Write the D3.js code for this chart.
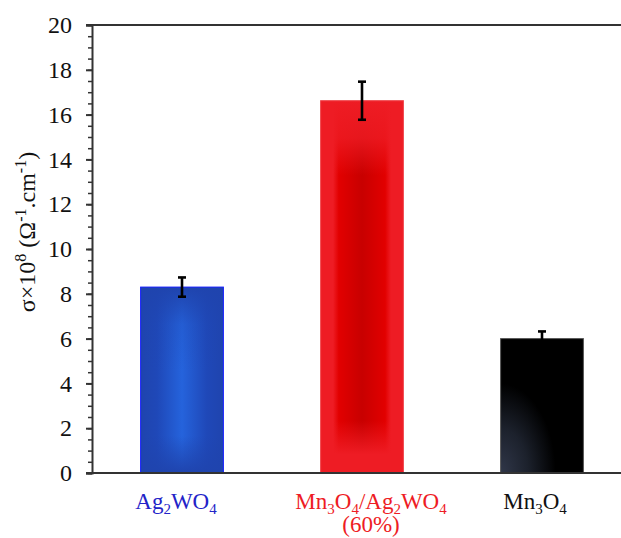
<!DOCTYPE html>
<html>
<head>
<meta charset="utf-8">
<script src="https://cdn.jsdelivr.net/npm/d3@7/dist/d3.min.js"></script>
<style>
    body { margin: 0; background: #fff; }
    text { font-family: "Liberation Serif", "Times New Roman", serif; }
</style>
</head>
<body>
<svg id="chart"></svg>
<script>
const categories = ["Ag2WO4", "Mn3O4/Ag2WO4 (60%)", "Mn3O4"];
const values = [8.3, 16.62, 6.0];
const errors = [0.43, 0.85, 0.32];
const yTicks = [0, 2, 4, 6, 8, 10, 12, 14, 16, 18, 20];

const width = 621,
    height = 538;
const margin = { top: 25, left: 92, bottom: 65 };

const svg = d3
    .select("#chart")
    .attr("width", width)
    .attr("height", height);

// the plot area runs past the right edge of the picture
const x = d3
    .scaleBand()
    .domain(categories)
    .range([margin.left, margin.left + 540])
    .paddingInner(0.54)
    .paddingOuter(0.27);

const y = d3
    .scaleLinear()
    .domain([0, 20])
    .range([height - margin.bottom, margin.top]);

const defs = svg.append("defs");

function rectGrad(id, stops, horizontal) {
    const g = defs
        .append("linearGradient")
        .attr("id", id)
        .attr("x1", 0)
        .attr("y1", 0)
        .attr("x2", horizontal ? 1 : 0)
        .attr("y2", horizontal ? 0 : 1);
    stops.forEach(s =>
        g.append("stop")
            .attr("offset", s[0])
            .attr("stop-color", s[1])
            .attr("stop-opacity", s[2] == null ? 1 : s[2])
    );
}

// blue: lighter in the middle, darker at the edges
rectGrad("blueH", [[0, "#1f44ae"], [0.2, "#1f48b8"], [0.5, "#2563dc"], [0.8, "#1f48b8"], [1, "#1f44ae"]], true);
rectGrad("blueV", [[0, "#1f44ae", 1], [0.2, "#1f44ae", 0.2], [0.45, "#1f44ae", 0], [0.8, "#1f44ae", 0], [1, "#1f44ae", 1]], false);
// red: darker in the middle
rectGrad("redH", [[0, "#ee1c24"], [0.15, "#ee1c24"], [0.22, "#e20000"], [0.5, "#c80000"], [0.78, "#e20000"], [0.85, "#ee1c24"], [1, "#ee1c24"]], true);
rectGrad("redV", [[0, "#ee1c24", 1], [0.1, "#ee1c24", 0.8], [0.2, "#ee1c24", 0], [0.86, "#ee1c24", 0], [0.95, "#ee1c24", 1], [1, "#ee1c24", 1]], false);

const blackGrad = defs
    .append("radialGradient")
    .attr("id", "blackR")
    .attr("cx", 0)
    .attr("cy", 1)
    .attr("r", 0.95);
blackGrad.append("stop").attr("offset", 0).attr("stop-color", "#303749");
blackGrad.append("stop").attr("offset", 0.35).attr("stop-color", "#1c212c");
blackGrad.append("stop").attr("offset", 0.7).attr("stop-color", "#000");

const fills = [
    { base: "url(#blueH)", over: "url(#blueV)", stroke: "#1a22ff" },
    { base: "url(#redH)", over: "url(#redV)", stroke: "#f04a50" },
    { base: "url(#blackR)", over: null, stroke: "#555" }
];

// frame line along the top
svg.append("line")
    .attr("x1", margin.left - 6)
    .attr("x2", width)
    .attr("y1", y(20))
    .attr("y2", y(20))
    .attr("stroke", "#333")
    .attr("stroke-width", 2);

// bars
categories.forEach((c, i) => {
    const bx = x(c),
        by = y(values[i]),
        bw = x.bandwidth(),
        bh = y(0) - y(values[i]);
    svg.append("rect")
        .attr("x", bx).attr("y", by).attr("width", bw).attr("height", bh)
        .attr("fill", fills[i].base);
    if (fills[i].over)
        svg.append("rect")
            .attr("x", bx).attr("y", by).attr("width", bw).attr("height", bh)
            .attr("fill", fills[i].over);
    svg.append("rect")
        .attr("x", bx).attr("y", by).attr("width", bw).attr("height", bh)
        .attr("fill", "none")
        .attr("stroke", fills[i].stroke)
        .attr("stroke-width", 1);
});

// error bars
const err = svg.append("g").attr("stroke", "#000").attr("stroke-width", 2.6);
categories.forEach((c, i) => {
    const cx = x(c) + x.bandwidth() / 2;
    const lo = y(values[i] - errors[i]),
        hi = y(values[i] + errors[i]);
    err.append("line").attr("x1", cx).attr("x2", cx).attr("y1", lo).attr("y2", hi);
    err.append("line").attr("x1", cx - 4).attr("x2", cx + 4).attr("y1", hi).attr("y2", hi);
    err.append("line").attr("x1", cx - 4).attr("x2", cx + 4).attr("y1", lo).attr("y2", lo);
});

// y axis
const yAxis = svg
    .append("g")
    .attr("transform", `translate(${margin.left},0)`)
    .call(
        d3.axisLeft(y)
            .tickValues(yTicks)
            .tickSize(6)
            .tickPadding(14)
            .tickFormat(d3.format("d"))
    );
yAxis.select(".domain").attr("stroke", "#333").attr("stroke-width", 2);
yAxis.selectAll(".tick line").attr("stroke", "#333").attr("stroke-width", 2);
yAxis.selectAll(".tick text")
    .attr("fill", "#111")
    .style("font-size", "24px")
    .style("font-family", "'Liberation Serif', serif");

const minor = svg
    .append("g")
    .attr("transform", `translate(${margin.left},0)`)
    .call(d3.axisLeft(y).ticks(50).tickSize(4).tickFormat(""));
minor.select(".domain").remove();
minor.selectAll(".tick line").attr("stroke", "#333").attr("stroke-width", 1.5);

// x axis line
svg.append("line")
    .attr("x1", margin.left - 6)
    .attr("x2", width)
    .attr("y1", y(0))
    .attr("y2", y(0))
    .attr("stroke", "#333")
    .attr("stroke-width", 2);

// category labels with subscripts (nudged like the original)
const labelColors = ["#2323c8", "#ee1c24", "#111"];
const labelNudge = [-6, 9, -7];
const labelParts = [
    [["Ag"], ["2", true], ["WO"], ["4", true]],
    [["Mn"], ["3", true], ["O"], ["4", true], ["/Ag"], ["2", true], ["WO"], ["4", true]],
    [["Mn"], ["3", true], ["O"], ["4", true]]
];
categories.forEach((c, i) => {
    const lx = x(c) + x.bandwidth() / 2 + labelNudge[i];
    const t = svg.append("text")
        .attr("x", lx)
        .attr("y", 509)
        .attr("text-anchor", "middle")
        .attr("fill", labelColors[i])
        .style("font-size", "23px");
    let sub = false;
    labelParts[i].forEach(p => {
        const s = t.append("tspan").text(p[0]);
        if (p[1]) {
            s.attr("dy", 5).style("font-size", "15px");
            sub = true;
        } else if (sub) {
            s.attr("dy", -5);
            sub = false;
        }
    });
    if (i === 1)
        svg.append("text")
            .attr("x", lx)
            .attr("y", 532)
            .attr("text-anchor", "middle")
            .attr("fill", labelColors[i])
            .style("font-size", "23px")
            .text("(60%)");
});

// y axis title
const yt = svg.append("text")
    .attr("transform", "translate(35,232) rotate(-90)")
    .attr("text-anchor", "middle")
    .attr("fill", "#111")
    .style("font-size", "24px");
yt.append("tspan").text("σ×10");
yt.append("tspan").text("8").attr("dy", -9).style("font-size", "16px");
yt.append("tspan").text(" (Ω").attr("dy", 9);
yt.append("tspan").text("-1").attr("dy", -9).style("font-size", "16px");
yt.append("tspan").text(".cm").attr("dy", 9);
yt.append("tspan").text("-1").attr("dy", -9).style("font-size", "16px");
yt.append("tspan").text(")").attr("dy", 9);
</script>
</body>
</html>
